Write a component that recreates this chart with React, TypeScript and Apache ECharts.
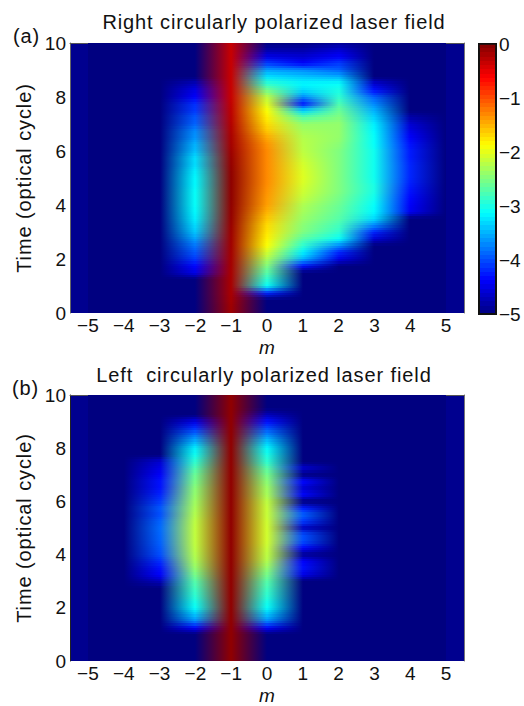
import React, { useEffect, useRef } from "react";
import * as echarts from "echarts";

const FONT = "'Liberation Sans', Arial, sans-serif";

const mColumns = [-5, -4, -3, -2, -1, 0, 1, 2, 3, 4, 5];
const mTicks = [-5, -4, -3, -2, -1, 0, 1, 2, 3, 4, 5];
const colorbarTicks = [0, -1, -2, -3, -4, -5];
const timeStep = 0.25;

// every column: one line per whole t, four samples (t, t+.25, t+.5, t+.75), then t = 10
const floorColumn = [
  -5, -5, -5, -5, -5, -5, -5, -5, -5, -5, -5, -5, -5, -5, -5, -5, -5, -5, -5, -5,
  -5, -5, -5, -5, -5, -5, -5, -5, -5, -5, -5, -5, -5, -5, -5, -5, -5, -5, -5, -5, -5,
];

const rightM2n = [
  -5, -5, -5, -5,
  -5, -5, -4.5, -4.35,
  -4.1, -3.95, -3.8, -3.6,
  -3.4, -3.3, -3.2, -3.15,
  -3.1, -3.1, -3.1, -3.15,
  -3.15, -3.2, -3.3, -3.28,
  -3.45, -3.5, -3.65, -3.7,
  -3.9, -3.95, -4.1, -4.15,
  -4.4, -4.5, -4.7, -5,
  -5, -5, -5, -5,
  -5,
];
const rightM1n = [
  -0.15, -0.15, -0.18, -0.2,
  -0.2, -0.2, -0.2, -0.18,
  -0.18, -0.17, -0.16, -0.15,
  -0.14, -0.12, -0.1, -0.09,
  -0.08, -0.07, -0.07, -0.07,
  -0.07, -0.08, -0.1, -0.12,
  -0.15, -0.18, -0.2, -0.23,
  -0.25, -0.28, -0.3, -0.32,
  -0.35, -0.35, -0.35, -0.35,
  -0.35, -0.35, -0.35, -0.35,
  -0.35,
];
const rightM0 = [
  -5, -5, -5, -4.2,
  -3.1, -2.9, -2.7, -2.5,
  -2.3, -2.1, -1.9, -1.82,
  -1.75, -1.7, -1.6, -1.5,
  -1.4, -1.38, -1.35, -1.32,
  -1.3, -1.3, -1.3, -1.3,
  -1.3, -1.35, -1.45, -1.6,
  -1.7, -1.8, -1.9, -2.05,
  -2.2, -2.55, -2.9, -3.25,
  -3.6, -4.1, -4.5, -4.8,
  -5,
];
const rightM1 = [
  -5, -5, -5, -5,
  -5, -5, -5, -4.3,
  -3.5, -3.2, -2.9, -2.7,
  -2.5, -2.45, -2.38, -2.32,
  -2.27, -2.18, -2.12, -2.08,
  -2.03, -2.05, -2.08, -2.15,
  -2.2, -2.22, -2.25, -2.32,
  -2.4, -2.7, -3.3, -4.3,
  -3.7, -3.3, -3.15, -3.4,
  -3.7, -4.4, -4.6, -4.8,
  -5,
];
const rightM2 = [
  -5, -5, -5, -5,
  -5, -5, -5, -5,
  -4.5, -4.2, -3.7, -3.1,
  -2.9, -2.8, -2.7, -2.65,
  -2.6, -2.55, -2.5, -2.5,
  -2.5, -2.5, -2.5, -2.5,
  -2.5, -2.45, -2.4, -2.4,
  -2.4, -2.5, -2.6, -2.75,
  -2.9, -3.0, -3.1, -3.5,
  -3.9, -4.1, -4.4, -4.6,
  -4.9,
];
const rightM3 = [
  -5, -5, -5, -5,
  -5, -5, -5, -5,
  -5, -5, -5, -4.6,
  -4.2, -3.7, -3.3, -3.15,
  -3.1, -3.05, -3.0, -3.0,
  -3.05, -3.05, -3.05, -3.05,
  -3.05, -3.1, -3.1, -3.15,
  -3.2, -3.35, -3.5, -3.7,
  -3.9, -4.3, -4.6, -5,
  -5, -5, -5, -5,
  -5,
];
const rightM4 = [
  -5, -5, -5, -5,
  -5, -5, -5, -5,
  -5, -5, -5, -5,
  -5, -5, -5, -4.45,
  -4.4, -4.35, -4.3, -4.25,
  -4.2, -4.2, -4.2, -4.25,
  -4.25, -4.3, -4.4, -4.5,
  -4.6, -4.8, -5, -5,
  -5, -5, -5, -5,
  -5, -5, -5, -5,
  -5,
];

const leftM3n = [
  -5, -5, -5, -5,
  -5, -5, -5, -5,
  -5, -5, -5, -5,
  -4.7, -4.4, -4.3, -4.15,
  -4.0, -3.95, -3.9, -3.88,
  -3.85, -3.9, -4.0, -3.95,
  -4.1, -4.2, -4.3, -4.3,
  -4.4, -4.5, -4.6, -5,
  -5, -5, -5, -5,
  -5, -5, -5, -5,
  -5,
];
const leftM2n = [
  -5, -5, -5, -5,
  -5, -4.4, -3.7, -3.4,
  -3.1, -3.0, -2.9, -2.8,
  -2.7, -2.55, -2.4, -2.3,
  -2.25, -2.2, -2.18, -2.18,
  -2.18, -2.2, -2.25, -2.3,
  -2.35, -2.4, -2.45, -2.55,
  -2.6, -2.75, -2.9, -3.05,
  -3.2, -3.5, -3.8, -4.15,
  -4.5, -5, -5, -5,
  -5,
];
const leftM1n = [
  -0.08, -0.08, -0.08, -0.08,
  -0.08, -0.08, -0.08, -0.08,
  -0.08, -0.08, -0.08, -0.08,
  -0.08, -0.08, -0.08, -0.08,
  -0.08, -0.08, -0.08, -0.08,
  -0.08, -0.08, -0.08, -0.08,
  -0.08, -0.08, -0.08, -0.08,
  -0.08, -0.08, -0.08, -0.08,
  -0.08, -0.08, -0.08, -0.08,
  -0.08, -0.08, -0.08, -0.08,
  -0.08,
];
const leftM0 = [
  -5, -5, -5, -5,
  -5, -4.4, -3.7, -3.4,
  -3.1, -3.0, -2.9, -2.8,
  -2.7, -2.55, -2.4, -2.25,
  -2.2, -2.15, -2.1, -2.1,
  -2.1, -2.12, -2.15, -2.15,
  -2.2, -2.3, -2.35, -2.45,
  -2.55, -2.7, -2.9, -3.0,
  -3.15, -3.4, -3.7, -4.0,
  -4.3, -4.7, -5, -5,
  -5,
];
const leftM1 = [
  -5, -5, -5, -5,
  -5, -5, -5, -5,
  -5, -5, -5, -5,
  -5, -4.5, -4.3, -4.4,
  -4.9, -4.35, -4.0, -4.0,
  -4.7, -4.1, -3.9, -4.25,
  -5, -4.35, -4.6, -4.35,
  -5, -4.6, -5, -5,
  -5, -5, -5, -5,
  -5, -5, -5, -5,
  -5,
];

const rightMatrix = [floorColumn, floorColumn, floorColumn, rightM2n, rightM1n, rightM0, rightM1, rightM2, rightM3, rightM4, floorColumn];
const leftMatrix = [floorColumn, floorColumn, leftM3n, leftM2n, leftM1n, leftM0, leftM1, floorColumn, floorColumn, floorColumn, floorColumn];

type RGB = [number, number, number];

function jet(v: number): RGB {
  const n = Math.max(0, Math.min(1, (v + 5) / 5));
  const ramp = (c: number) => Math.max(0, Math.min(1, Math.min(4 * n - c + 0.5, -4 * n + c + 2.5)));
  return [ramp(2) * 255, ramp(1) * 255, ramp(0) * 255];
}
const mix = (a: RGB, b: RGB, f: number): RGB => [a[0] + (b[0] - a[0]) * f, a[1] + (b[1] - a[1]) * f, a[2] + (b[2] - a[2]) * f];
const css = (c: RGB) => `rgb(${Math.round(c[0])},${Math.round(c[1])},${Math.round(c[2])})`;

const toCells = (matrix: number[][]) =>
  mColumns.flatMap((m, c) => matrix[c].map((v, r) => [m, r * timeStep, v]));

function heatRenderer(matrix: number[][]) {
  const STRIPS = 3;
  return (_: any, api: any) => {
    const m = api.value(0);
    const t = api.value(1);
    const c = mColumns.indexOf(m);
    const r = Math.round(t / timeStep);
    if (c >= mColumns.length - 1 || r >= matrix[0].length - 1) return undefined;
    const x0 = Math.round(api.coord([m, t])[0]);
    const x1 = Math.round(api.coord([m + 1, t])[0]);
    const yA = api.coord([m, t])[1];
    const yB = api.coord([m, t + timeStep])[1];
    const children: any[] = [];
    const lb = jet(matrix[c][r]), rb = jet(matrix[c + 1][r]);
    const lt = jet(matrix[c][r + 1]), rt = jet(matrix[c + 1][r + 1]);
    for (let s = 0; s < STRIPS; s++) {
      const f = (s + 0.5) / STRIPS;
      const yLow = Math.round(yA + ((yB - yA) * s) / STRIPS);
      const yHigh = Math.round(yA + ((yB - yA) * (s + 1)) / STRIPS);
      const l = css(mix(lb, lt, f));
      const rc = css(mix(rb, rt, f));
      const fill = l === rc ? l : {
        type: "linear", x: 0, y: 0, x2: 1, y2: 0,
        colorStops: [{ offset: 0, color: l }, { offset: 1, color: rc }],
      };
      children.push({
        type: "rect",
        shape: { x: x0, y: yHigh, width: x1 - x0, height: yLow - yHigh },
        style: { fill },
      });
    }
    return { type: "group", children };
  };
}

const minusFormatter = (v: number) => (v < 0 ? `\u2212${Math.abs(v)}` : `${v}`);
const textStyle = { fontFamily: FONT, fontSize: 19, color: "#111" };
const spacedText = { fontFamily: FONT, fontSize: 20, fontWeight: "normal", color: "#111" };

function frameAxis(gridIndex: number, position: string, min: number, max: number, color: string) {
  return {
    type: "value", gridIndex, position, min, max,
    axisLine: { show: true, onZero: false, lineStyle: { color, width: 1 } },
    axisTick: { show: false }, axisLabel: { show: false }, splitLine: { show: false },
  };
}

function panelAxes(gridIndex: number, edge: string) {
  return {
    x: [
      {
        type: "value", gridIndex, position: "bottom", min: -5.5, max: 5.5,
        name: "m", nameLocation: "middle", nameGap: 25,
        nameTextStyle: { fontFamily: FONT, fontSize: 19, fontStyle: "italic", color: "#111" },
        axisLine: { show: false }, axisTick: { show: false }, splitLine: { show: false },
        axisLabel: { ...textStyle, margin: 3, formatter: minusFormatter, customValues: mTicks },
      },
      frameAxis(gridIndex, "top", -5.5, 5.5, "#555"),
    ],
    y: [
      {
        type: "value", gridIndex, position: "left", min: 0, max: 10, interval: 2,
        name: "Time (optical cycle)", nameLocation: "middle", nameGap: 36,
        nameTextStyle: spacedText,
        axisLine: { show: true, onZero: false, lineStyle: { color: edge, width: 1 } },
        axisTick: { show: false }, splitLine: { show: false },
        axisLabel: { ...textStyle, margin: 4 },
      },
      frameAxis(gridIndex, "right", 0, 10, "#777"),
    ],
  };
}

export default function App() {
  const ref = useRef<HTMLDivElement>(null);
  useEffect(() => {
    const chart = echarts.init(ref.current!, undefined, { renderer: "svg" });
    const a = panelAxes(0, "#666");
    const b = panelAxes(1, "#222");
    const levels = Array.from({ length: 64 }, (_, i) => -5 + (i * 5) / 64);
    chart.setOption({
      animation: false,
      backgroundColor: "#fff",
      title: [
        { text: "Right circularly polarized laser field", left: 274, top: 12, padding: 0, textAlign: "center", textStyle: spacedText },
        { text: "Left  circularly polarized laser field", left: 264, top: 365, padding: 0, textAlign: "center", textStyle: spacedText },
        { text: "(a)", left: 13, top: 26, padding: 0, textStyle: spacedText },
        { text: "(b)", left: 12, top: 378, padding: 0, textStyle: spacedText },
      ],
      grid: [
        { left: 70, top: 43, width: 394, height: 270, show: true, backgroundColor: "rgb(0,0,143)", borderWidth: 0 },
        { left: 70, top: 395, width: 394, height: 270, show: true, backgroundColor: "rgb(0,0,143)", borderWidth: 0 },
        { left: 479, top: 44, width: 17, height: 270, show: false },
      ],
      xAxis: [
        ...a.x, ...b.x,
        { type: "value", gridIndex: 2, min: 0, max: 1, show: false },
      ],
      yAxis: [
        ...a.y, ...b.y,
        {
          type: "value", gridIndex: 2, position: "right", min: -5, max: 0, interval: 1,
          axisLine: { show: true, onZero: false, lineStyle: { color: "#111", width: 1.5 } },
          axisTick: { show: true, inside: true, length: 3, lineStyle: { color: "#111" } },
          axisLabel: { ...textStyle, margin: 3, formatter: minusFormatter, customValues: colorbarTicks },
          splitLine: { show: false },
        },
      ],
      series: [
        {
          type: "custom", xAxisIndex: 0, yAxisIndex: 0, silent: true, clip: true,
          renderItem: heatRenderer(rightMatrix),
          encode: { x: 0, y: 1 }, data: toCells(rightMatrix),
        },
        {
          type: "custom", xAxisIndex: 2, yAxisIndex: 2, silent: true, clip: true,
          renderItem: heatRenderer(leftMatrix),
          encode: { x: 0, y: 1 }, data: toCells(leftMatrix),
        },
        {
          type: "custom", xAxisIndex: 4, yAxisIndex: 4, silent: true,
          renderItem: (_: any, api: any) => {
            const v = api.value(0);
            const p0 = api.coord([0, v]);
            const p1 = api.coord([1, v + 5 / 64]);
            return {
              type: "group",
              children: [{
                type: "rect",
                shape: { x: p0[0], y: Math.round(p1[1]), width: p1[0] - p0[0], height: Math.round(p0[1]) - Math.round(p1[1]) },
                style: { fill: css(jet(v + 2.5 / 64)) },
              }, {
                type: "rect",
                shape: { x: p0[0], y: 44, width: p1[0] - p0[0], height: 270 },
                style: { fill: "none", stroke: "#111", lineWidth: 1.5 },
              }],
            };
          },
          encode: { y: 0 }, data: levels.map((v) => [v]),
        },
      ],
    });
    return () => chart.dispose();
  }, []);
  return (
    <>
      <style>{`svg text[style*="20px"]{letter-spacing:0.9px}`}</style>
      <div ref={ref} style={{ position: "fixed", left: 0, top: 0, width: 524, height: 706 }} />
    </>
  );
}
